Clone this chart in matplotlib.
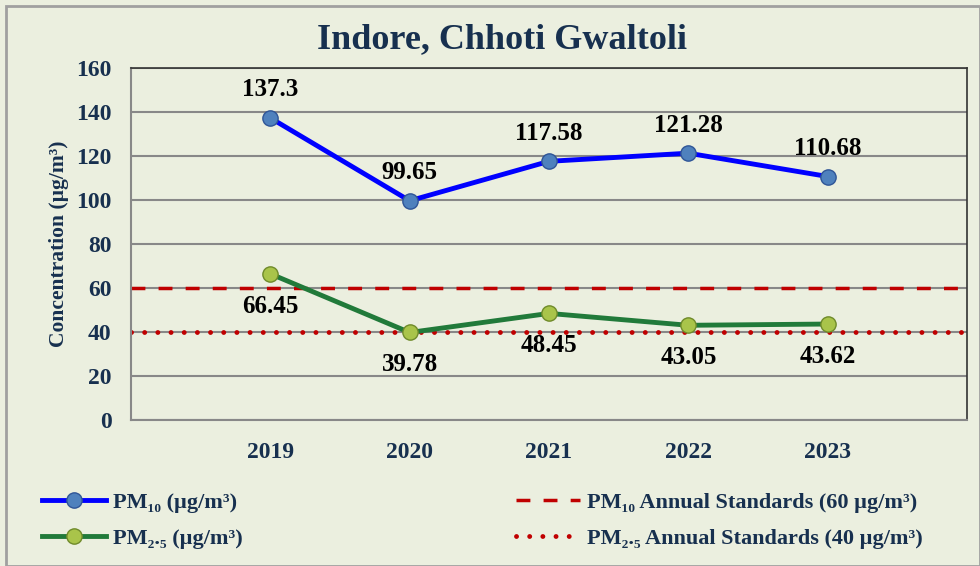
import matplotlib
matplotlib.use("Agg")
from matplotlib import pyplot as plt
from matplotlib.patches import Rectangle
from matplotlib.lines import Line2D

years = ["2019", "2020", "2021", "2022", "2023"]
pm10 = [137.3, 99.65, 117.58, 121.28, 110.68]
pm25 = [66.45, 39.78, 48.45, 43.05, 43.62]
pm10_std = 60
pm25_std = 40
yticks = [0, 20, 40, 60, 80, 100, 120, 140, 160]

bg = "#ebefdf"
navy = "#17304f"
plt.rcParams['font.family'] = ['Liberation Serif', 'DejaVu Serif']

fig = plt.figure(figsize=(9.8, 5.66), dpi=100, facecolor=bg)
fig.patches.append(Rectangle((0.006, 0.0), 0.994, 0.99, transform=fig.transFigure,
                             fill=False, edgecolor="#a0a0a0", lw=2))
ax = fig.add_axes([131 / 980, 1 - 420 / 566, 836 / 980, 352 / 566])
ax.set_facecolor(bg)

x = list(range(1, len(years) + 1))
ax.set_xlim(0, 6)
ax.set_ylim(0, 160)
ax.set_yticks(yticks)
ax.set_xticks(x)
ax.set_xticklabels(years)
ax.yaxis.grid(True, color="#888888", lw=1.5)
ax.set_axisbelow(True)
ax.tick_params(length=0, labelsize=17, labelcolor=navy)
for lab in ax.get_xticklabels() + ax.get_yticklabels():
    lab.set_fontweight("bold")
ax.tick_params(axis="x", pad=16)
ax.tick_params(axis="y", pad=14)

for s in ["left", "bottom"]:
    ax.spines[s].set_color("#888888")
    ax.spines[s].set_linewidth(1.5)
for s in ["top", "right"]:
    ax.spines[s].set_color("#333333")
    ax.spines[s].set_linewidth(1.2)

dash_std = (0, (4, 3.8))
dot_std = (0, (0.01, 2.7))
ax.axhline(pm10_std, color="#c00000", lw=2.5, ls=dash_std, zorder=2)
ax.axhline(pm25_std, color="#c00000", lw=3.5, ls=dot_std,
           dash_capstyle="round", zorder=2)

ax.plot(x, pm10, color="#0000ff", lw=3.5, marker="o", ms=11,
        mfc="#4f81bd", mec="#2f5597", mew=1, zorder=4)
ax.plot(x, pm25, color="#217a3a", lw=3.5, marker="o", ms=11,
        mfc="#a9c44a", mec="#6f8a2a", mew=1, zorder=4)

for xi, v in zip(x, pm10):
    ax.annotate(f"{v:g}", (xi, v), xytext=(0, 12), textcoords="offset points",
                ha="center", va="bottom", fontsize=18, fontweight="bold", color="black")
for xi, v in zip(x, pm25):
    ax.annotate(f"{v:g}", (xi, v), xytext=(0, -15), textcoords="offset points",
                ha="center", va="top", fontsize=18, fontweight="bold", color="black")

ax.set_ylabel("Concentration (µg/m³)", fontsize=15.5, fontweight="bold", color=navy, labelpad=5)
fig.text(0.512, 0.93, "Indore, Chhoti Gwaltoli", ha="center", va="center",
         fontsize=26, fontweight="bold", color=navy)

handles = [
    Line2D([], [], color="#0000ff", lw=3.5, marker="o", ms=11, mfc="#4f81bd", mec="#2f5597"),
    Line2D([], [], color="#217a3a", lw=3.5, marker="o", ms=11, mfc="#a9c44a", mec="#6f8a2a"),
    Line2D([], [], color="#c00000", lw=2.5, ls=dash_std),
    Line2D([], [], color="#c00000", lw=3.5, ls=dot_std, dash_capstyle="round"),
]
labels = ["PM₁₀ (µg/m³)", "PM₂.₅ (µg/m³)",
          "PM₁₀ Annual Standards (60 µg/m³)", "PM₂.₅ Annual Standards (40 µg/m³)"]
leg = fig.legend(handles, labels, ncol=2, loc="center left",
                 bbox_to_anchor=(0.022, 0.08), frameon=False, handlelength=2.9,
                 handletextpad=0.3, columnspacing=12.3, labelspacing=0.7,
                 prop={"size": 16, "weight": "bold"})
for t in leg.get_texts():
    t.set_color(navy)
    t.set_family(["Liberation Serif", "DejaVu Serif"])

fig.savefig("out.png", dpi=100, facecolor=bg)
